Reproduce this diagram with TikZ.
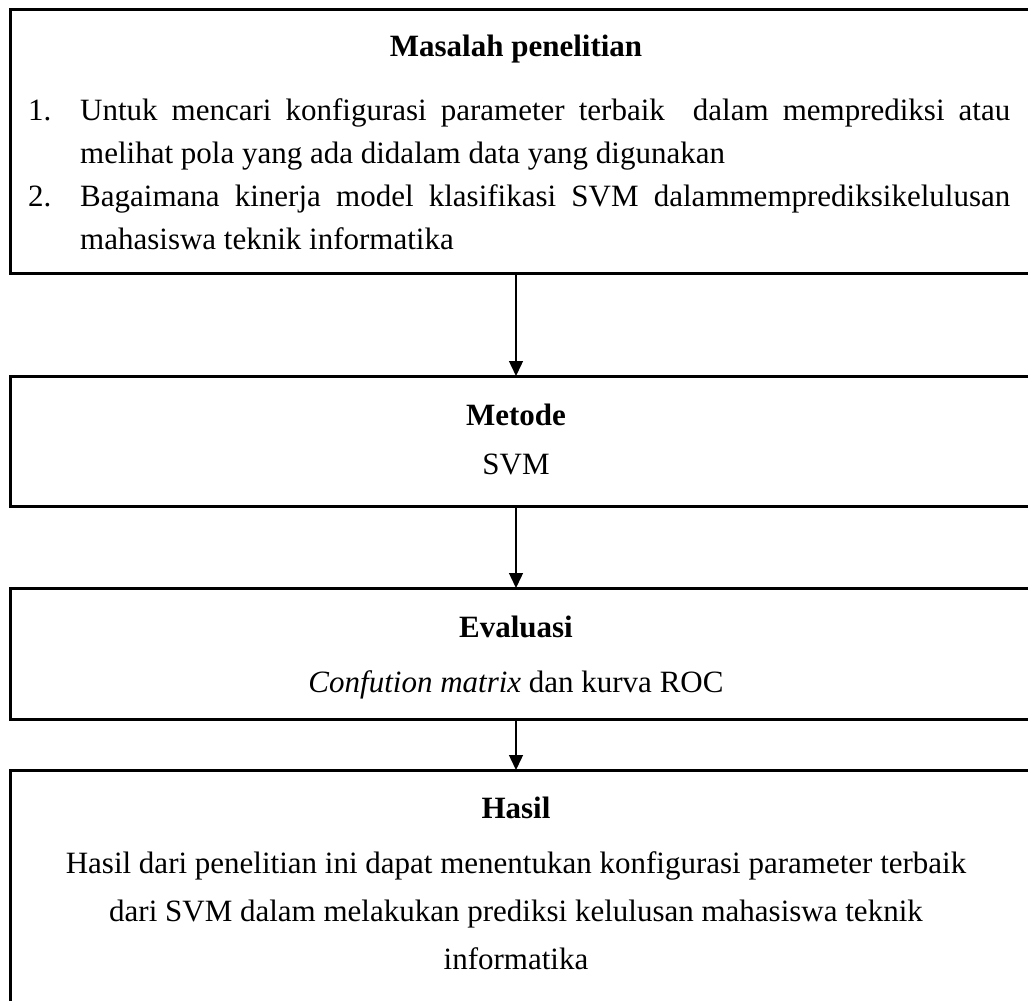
\documentclass[tikz,border=0pt]{standalone}
\usepackage{fontspec}
\setmainfont{Liberation Serif}
\usetikzlibrary{arrows.meta}
\begin{document}
\begin{tikzpicture}[x=1pt,y=-1pt,
 box/.style={draw=black, line width=3pt, rectangle, inner sep=0pt, outer sep=0pt, anchor=north west},
 arr/.style={line width=1.4pt, -{Triangle[length=15pt,width=14pt]}},
 txt/.style={inner sep=0pt, anchor=base, font=\fontsize{31}{36}\selectfont},
 btxt/.style={txt, font=\fontsize{31}{36}\selectfont\bfseries},
 ltxt/.style={txt, anchor=base west}]
\useasboundingbox (0,0) rectangle (1028,1001);
\clip (0,0) rectangle (1028,1001);
% boxes (right edges run off the page)
\node[box, minimum width=1040pt, minimum height=264pt] (b1) at (10,9) {};
\node[box, minimum width=1040pt, minimum height=130pt] (b2) at (10,376) {};
\node[box, minimum width=1040pt, minimum height=131pt] (b3) at (10,588) {};
\node[box, minimum width=1040pt, minimum height=300pt] (b4) at (10,770) {};
\coordinate (ax) at (516,0);
% box 1
\node[btxt] (t1) at (516,56) {Masalah penelitian};
\node[ltxt] (n1) at (28,120) {1.};
\node[ltxt] (l1) at (80,120) {\makebox[930pt][s]{Untuk mencari konfigurasi parameter terbaik\ \ dalam memprediksi atau}};
\node[ltxt] (l2) at (80,163) {melihat pola yang ada didalam data yang digunakan};
\node[ltxt] (n2) at (28,206) {2.};
\node[ltxt] (l3) at (80,206) {\makebox[930pt][s]{Bagaimana kinerja model klasifikasi SVM dalammemprediksikelulusan}};
\node[ltxt] (l4) at (80,249) {mahasiswa teknik informatika};
% box 2
\node[btxt] (t2) at (516,425) {Metode};
\node[txt] (s2) at (516,474) {SVM};
% box 3
\node[btxt] (t3) at (516,637) {Evaluasi};
\node[txt] (s3) at (516,692) {\textit{Confution matrix} dan kurva ROC};
% box 4
\node[btxt] (t4) at (516,818) {Hasil};
\node[txt] (h1) at (516,873) {Hasil dari penelitian ini dapat menentukan konfigurasi parameter terbaik};
\node[txt] (h2) at (516,921) {dari SVM dalam melakukan prediksi kelulusan mahasiswa teknik};
\node[txt] (h3) at (516,969) {informatika};
% connectors
\draw[arr] (b1.south -| ax) -- (b2.north -| ax);
\draw[arr] (b2.south -| ax) -- (b3.north -| ax);
\draw[arr] (b3.south -| ax) -- (b4.north -| ax);
\end{tikzpicture}
\end{document}
